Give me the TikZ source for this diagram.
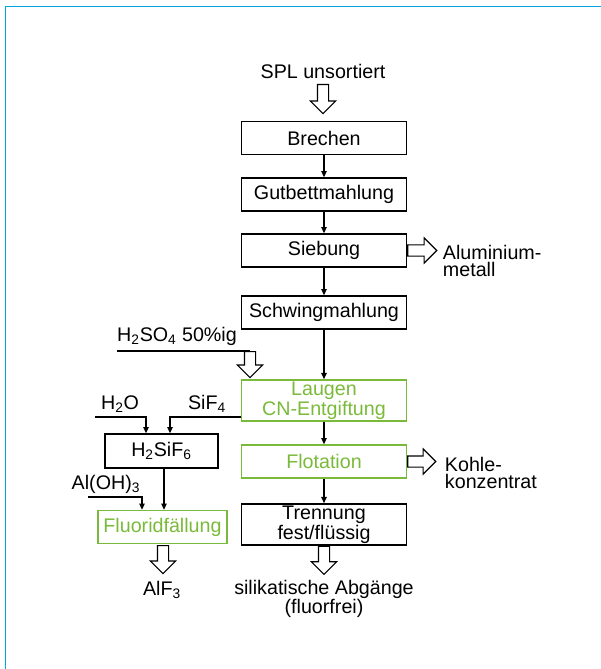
\documentclass[tikz,border=0pt]{standalone}
\usepackage{fontspec}
\setmainfont{Liberation Sans}
\usetikzlibrary{arrows.meta,shapes.arrows}
\definecolor{framecol}{RGB}{0,166,226}
\definecolor{procgreen}{RGB}{122,186,58}

\begin{document}
\begin{tikzpicture}
[x=0.025cm,y=-0.025cm,
every node/.style={font=\fontsize{14}{12.6}\selectfont,align=center},
stepbox/.style={draw,line width=0.9pt,minimum width=4.125cm,minimum height=0.825cm,inner sep=1pt},
tallbox/.style={stepbox,minimum height=1.03cm},
greenbox/.style={draw=procgreen,text=procgreen},
flow/.style={line width=1pt,-{Triangle[length=4.5pt,width=3.8pt]}},
hollow/.style={single arrow,draw,line width=0.8pt,inner sep=0.125cm,
  single arrow head extend=0.175cm,minimum height=#1}]

\useasboundingbox (0,0) rectangle (600,669);
\draw[framecol,line width=1.4pt] (5.5,700) |- (620,6.5);

\node (spl) at (323,71) {SPL unsortiert};
\node[stepbox] (brechen) at (324,138) {Brechen};
\node[stepbox] (gutbett) at (324,194.5) {Gutbettmahlung};
\node[stepbox] (sieb) at (324,250.5) {Siebung};
\node[stepbox] (schwing) at (324,312.5) {Schwingmahlung};
\node[tallbox,greenbox] (laugen) at (324,400.5) {Laugen\\CN-Entgiftung};
\node[stepbox,greenbox] (flot) at (324,461.5) {Flotation};
\node[tallbox] (trenn) at (324,524.5) {Trennung\\fest/flüssig};
\node (abg) at (324,599) {silikatische Abgänge\\(fluorfrei)};

\node[anchor=west,align=left] (alu) at (438,261) {Aluminium-\\metall};
\node[anchor=west,align=left] (kohle) at (440,473) {Kohle-\\konzentrat};

\node (acid) at (177,336) {H\textsubscript{2}SO\textsubscript{4} 50\%ig};
\node (water) at (120,404) {H\textsubscript{2}O};
\node (sif) at (207,404) {SiF\textsubscript{4}};
\node[draw,line width=0.9pt,minimum width=2.83cm,minimum height=0.85cm,inner sep=1pt] (hsif) at (161.5,451) {H\textsubscript{2}SiF\textsubscript{6}};
\node (aloh) at (106,484) {Al(OH)\textsubscript{3}};
\node[stepbox,greenbox,minimum width=3.23cm] (fluor) at (162.5,527) {Fluoridfällung};
\node (alf) at (162,590) {AlF\textsubscript{3}};

\coordinate (acidin) at (117,351);
\coordinate (waterin) at (95,417);
\coordinate (alohin) at (88,497);

\node[hollow=0.725cm,rotate=-90,anchor=west] (a0) at (323,84) {};
\node[hollow=0.725cm,anchor=west] (a1) at (sieb.east) {};
\node[hollow=0.7cm,anchor=west] (a2) at (flot.east) {};
\node[hollow=0.7cm,rotate=-90,anchor=west] (a3) at (trenn.south) {};
\node[hollow=0.7cm,rotate=-90,anchor=west] (a4) at (163,545) {};
\node[hollow=0.65cm,rotate=-90,anchor=west] (a5) at (250,351) {};

\draw[flow] (brechen) -- (gutbett);
\draw[flow] (gutbett) -- (sieb);
\draw[flow] (sieb) -- (schwing);
\draw[flow] (schwing) -- (laugen);
\draw[flow] (laugen) -- (flot);
\draw[flow] (flot) -- (trenn);
\draw[line width=1pt] (acidin) -- (a5.west);
\draw[flow] (laugen.west |- 0,417) -| (170,0 |- hsif.north);
\draw[flow] (waterin) -| (146,0 |- hsif.north);
\draw[flow] (hsif.south -| 164,0) -- (164,0 |- fluor.north);
\draw[flow] (alohin) -| (142,0 |- fluor.north);
\end{tikzpicture}
\end{document}
